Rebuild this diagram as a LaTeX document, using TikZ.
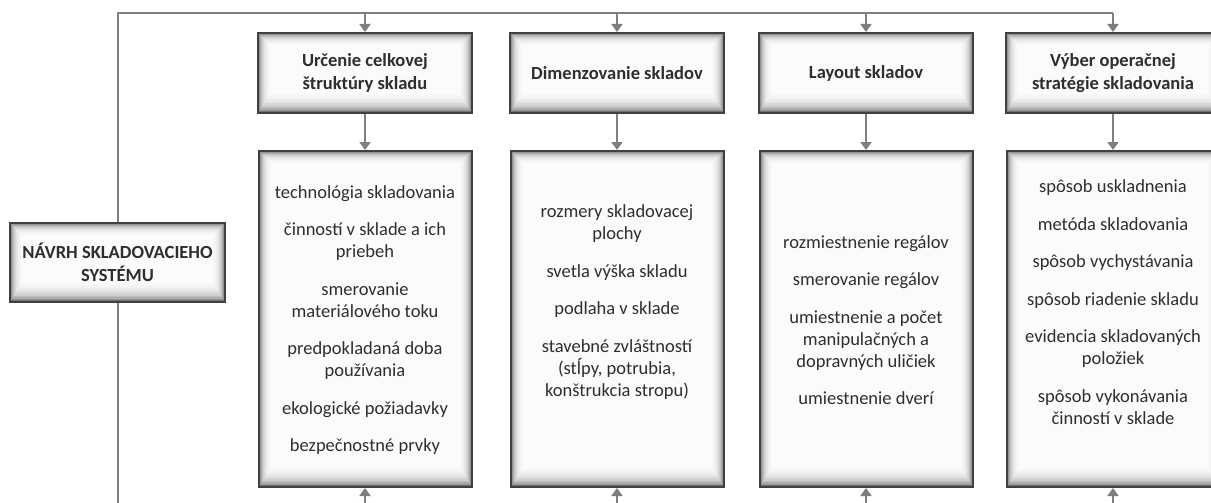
\documentclass[tikz,border=0pt]{standalone}
\usepackage{fontspec}
\setmainfont{Carlito}
\usepackage{tikz}
\usetikzlibrary{arrows.meta}

\definecolor{ram}{HTML}{404040}
\definecolor{ciara}{HTML}{7F7F7F}
\definecolor{pismo}{HTML}{2E2E2E}

\begin{document}
\begin{tikzpicture}[x=1pt, y=-1pt,
    box/.style={draw=ram, line width=2pt, fill=white, inner sep=0pt, text=pismo, align=center,
        font=\fontsize{18.5}{23}\selectfont\bfseries,
        path picture={
            \foreach \k/\c in {0/55,1/42,2/32,3/25,4/19,5/15,6/11,7/8.5,8/6.5,9/5,10/3.5,11/2.5,12/1.5}
                \fill[black!\c] ([shift={(\k*1pt,\k*1.6pt)}]path picture bounding box.south west)
                    rectangle ([shift={(-\k*1pt,-\k*1pt)}]path picture bounding box.north east);
        }},
    head/.style={box, minimum width=214pt, minimum height=80pt},
    detail/.style={box, minimum width=213pt, minimum height=336pt},
    items/.style={align=center, text=pismo, inner sep=0pt, font=\fontsize{18.5}{22}\selectfont},
    spoj/.style={draw=ciara, line width=2pt},
    sipka/.style={spoj, -{Triangle[length=8pt,width=11pt]}}]

    \useasboundingbox (0,0) rectangle (1211,503);
    \clip (0,0) rectangle (1211,503);

    % Hlavny blok.
    \node[box, minimum width=215pt, minimum height=79pt] (navrh) at (117.5,262.5) {NÁVRH SKLADOVACIEHO\\SYSTÉMU};

    % Oblasti.
    \node[head] (h1) at (365,73) {Určenie celkovej\\štruktúry skladu};
    \node[head] (h2) at (617,73) {Dimenzovanie skladov};
    \node[head] (h3) at (866,73) {Layout skladov};
    \node[head] (h4) at (1113,73) {Výber operačnej\\stratégie skladovania};

    \node[detail] (d1) at (365,319) {};
    \node[detail] (d2) at (617,319) {};
    \node[detail] (d3) at (866,319) {};
    \node[detail] (d4) at (1113,319) {};

    % Obsah.
    \node[items] (t1) at (365,320) {technológia skladovania\\[15.5pt]
        činností v sklade a ich\\priebeh\\[15.5pt]
        smerovanie\\materiálového toku\\[15.5pt]
        predpokladaná doba\\používania\\[15.5pt]
        ekologické požiadavky\\[15.5pt]
        bezpečnostné prvky};
    \node[items] (t2) at (617,302) {rozmery skladovacej\\plochy\\[15.5pt]
        svetla výška skladu\\[15.5pt]
        podlaha v sklade\\[15.5pt]
        stavebné zvláštností\\(stĺpy, potrubia,\\konštrukcia stropu)};
    \node[items] (t3) at (866,320) {rozmiestnenie regálov\\[15.5pt]
        smerovanie regálov\\[15.5pt]
        umiestnenie a počet\\manipulačných a\\dopravných uličiek\\[15.5pt]
        umiestnenie dverí};
    \node[items] (t4) at (1113,302) {spôsob uskladnenia\\[15.5pt]
        metóda skladovania\\[15.5pt]
        spôsob vychystávania\\[15.5pt]
        spôsob riadenie skladu\\[15.5pt]
        evidencia skladovaných\\položiek\\[15.5pt]
        spôsob vykonávania\\činností v sklade};

    % Spojnice.
    \coordinate (hore) at (0,13);
    \coordinate (dole) at (0,520);

    \draw[spoj] (navrh.north) |- (h4.north |- hore);
    \draw[spoj] (navrh.south) -- (navrh.south |- dole);
    \foreach \i in {1,...,4}
    {
        \draw[sipka] (h\i.north |- hore) -- (h\i.north);
        \draw[sipka] (h\i.south) -- (d\i.north);
        \draw[sipka] (d\i.south |- dole) -- (d\i.south);
    }
\end{tikzpicture}
\end{document}
